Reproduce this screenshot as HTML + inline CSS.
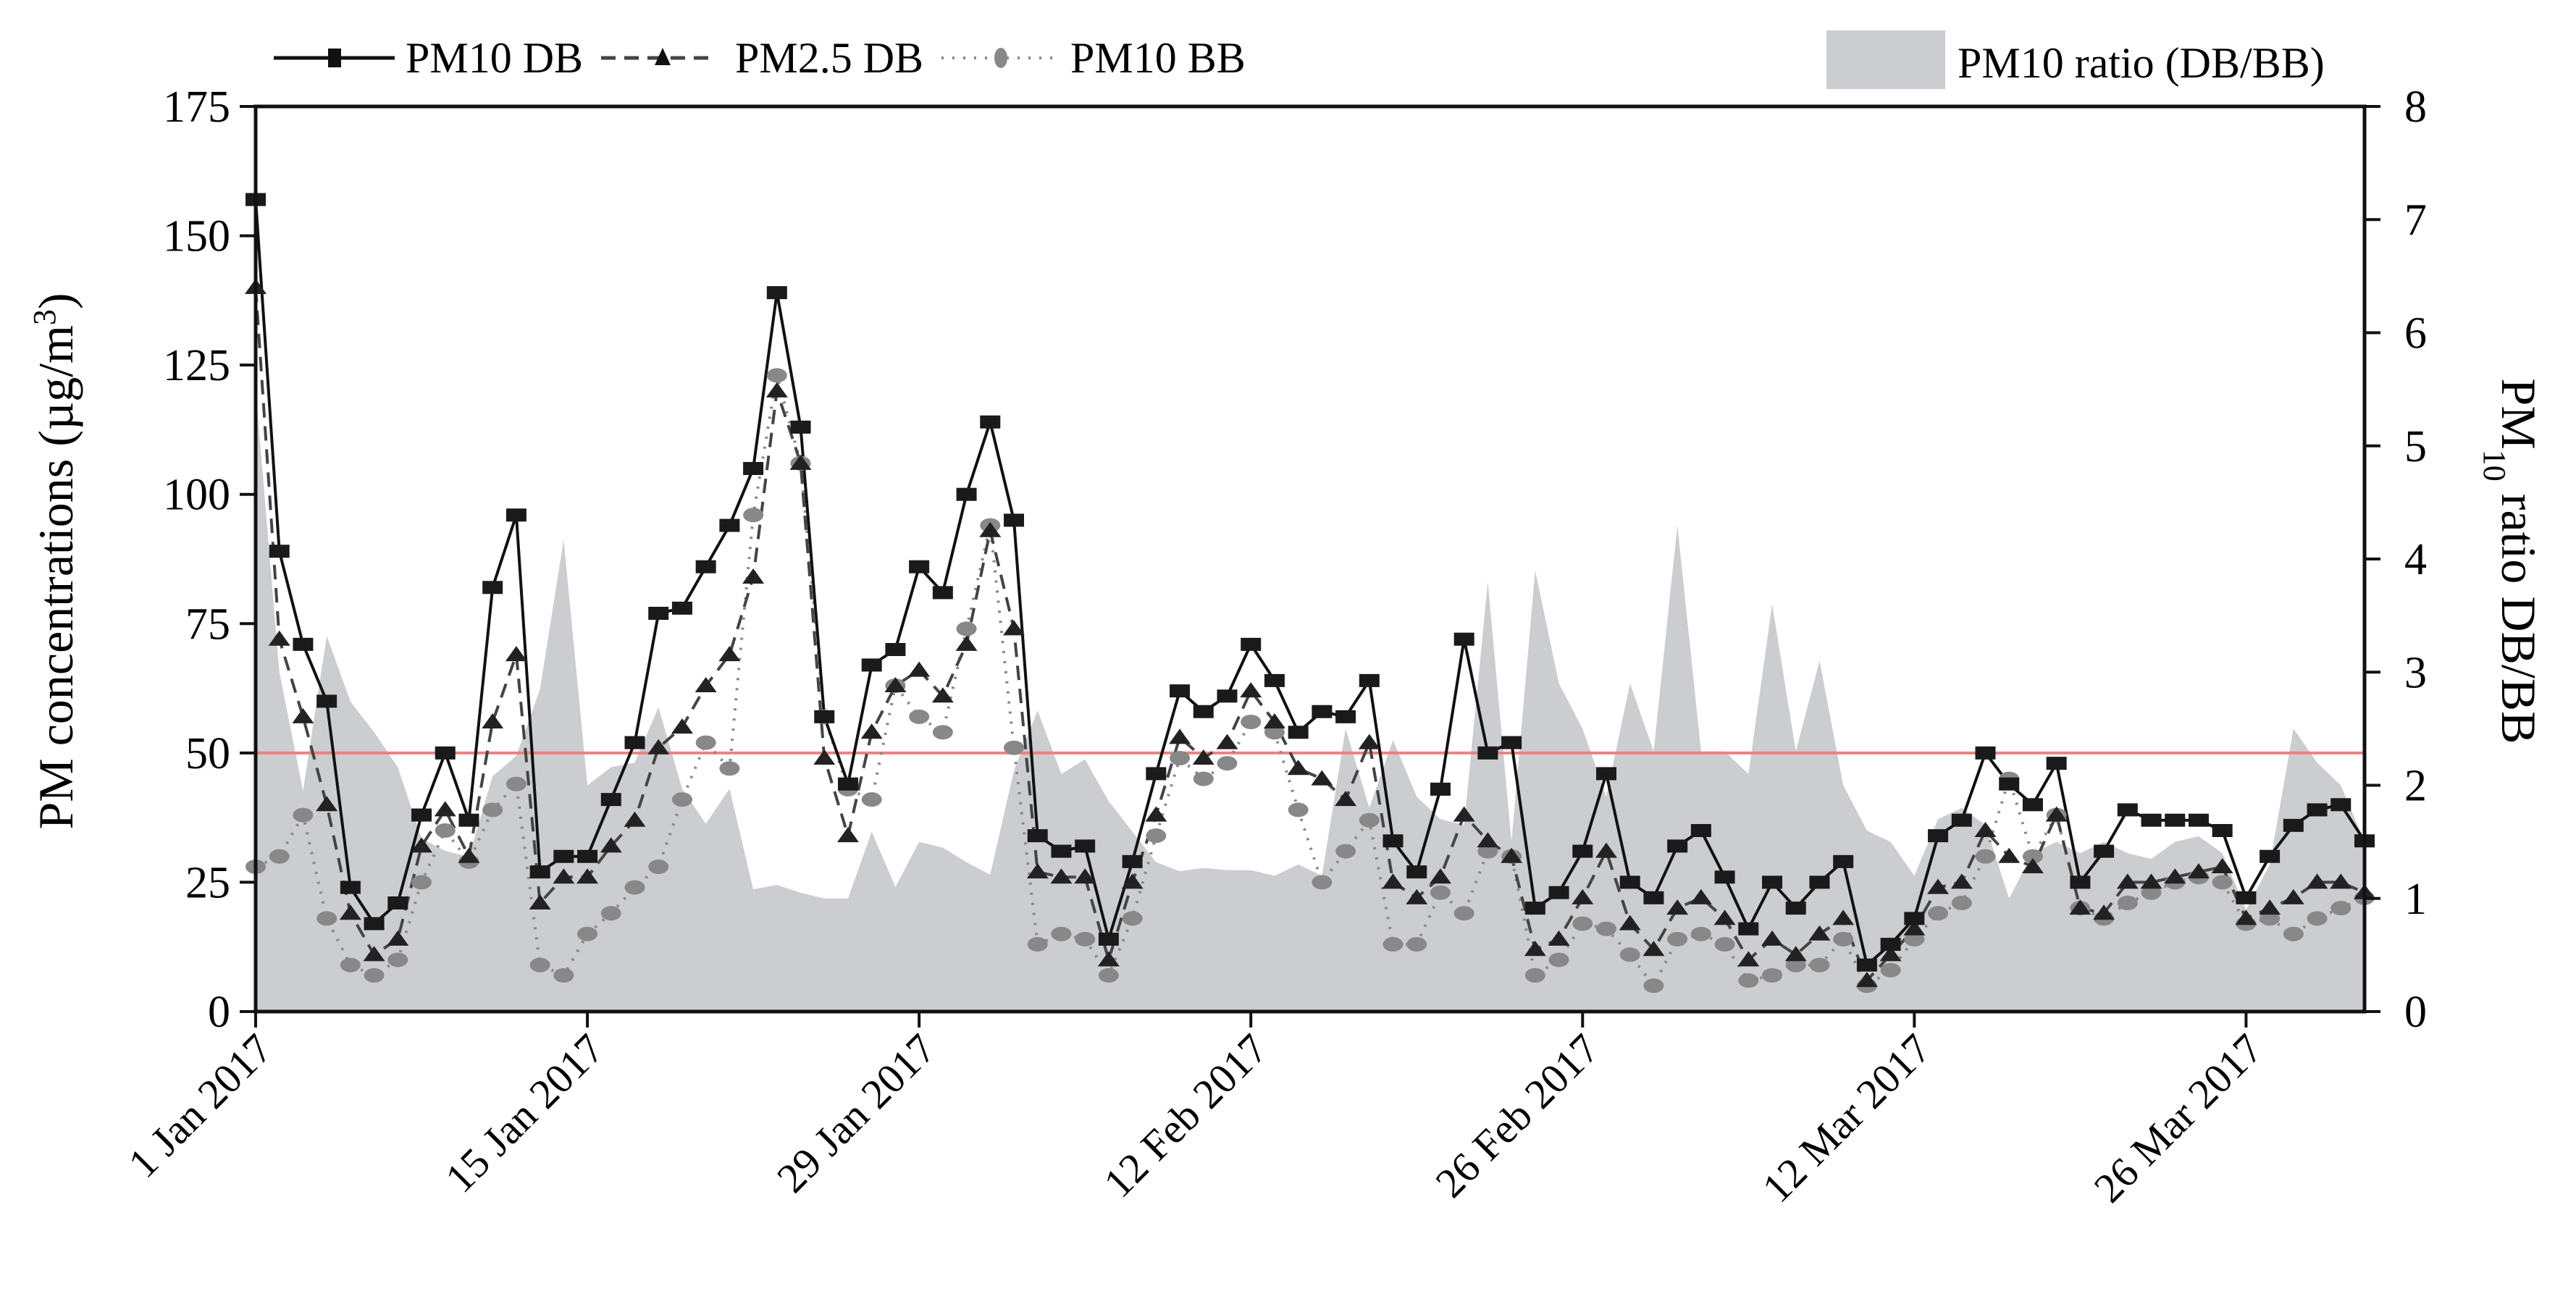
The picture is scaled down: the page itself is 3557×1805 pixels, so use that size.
<!DOCTYPE html>
<html><head><meta charset="utf-8"><style>
html,body{margin:0;padding:0;background:#fff}
svg{display:block;font-family:"Liberation Serif",serif}
</style></head><body>
<svg id="chart" width="3557" height="1805" viewBox="0 0 3557 1805" xmlns="http://www.w3.org/2000/svg">
<g id="area"></g>
<line x1="353" x2="3265" y1="0" y2="0" id="limit" stroke="#f08080" stroke-width="4"/>
<g id="series"></g>
<g id="axes"></g>
<g font-size="60">
 <g>
  <line x1="378" x2="545" y1="80" y2="80" stroke="#111" stroke-width="5"/>
  <rect x="453" y="67" width="18" height="26" fill="#111"/>
  <text x="560" y="100">PM10 DB</text></g>
 <g>
  <line x1="830" x2="985" y1="80" y2="80" stroke="#444" stroke-width="5" stroke-dasharray="20,12"/>
  <polygon points="915,66 904,90 926,90" fill="#111"/>
  <text x="1015" y="100">PM2.5 DB</text></g>
 <g>
  <line x1="1300" x2="1465" y1="80" y2="80" stroke="#888" stroke-width="4" stroke-dasharray="3,12"/>
  <ellipse cx="1382" cy="80" rx="9" ry="14" fill="#888"/>
  <text x="1478" y="100">PM10 BB</text></g>
 <g>
  <rect x="2522" y="42" width="164" height="81" fill="#cbcdd0"/>
  <text x="2703" y="107">PM10 ratio (DB/BB)</text></g>
</g>
<text font-size="68" text-anchor="middle" transform="translate(100,775) rotate(-90)">PM concentrations (µg/m<tspan baseline-shift="super" font-size="44">3</tspan>)</text>
<text font-size="68" text-anchor="middle" transform="translate(3455,775) rotate(90)">PM<tspan baseline-shift="sub" font-size="44">10</tspan> ratio DB/BB</text>
<script>
const days = Array.from({length:90},(_,i)=>i);
const pm10DB = [157,89,71,60,24,17,21,38,50,37,82,96,27,30,30,41,52,77,78,86,94,105,139,113,57,44,67,70,86,81,100,114,95,34,31,32,14,29,46,62,58,61,71,64,54,58,57,64,33,27,43,72,50,52,20,23,31,46,25,22,32,35,26,16,25,20,25,29,9,13,18,34,37,50,44,40,48,25,31,39,37,37,37,35,22,30,36,39,40,33];
const pm25DB = [140,72,57,40,19,11,14,32,39,30,56,69,21,26,26,32,37,51,55,63,69,84,120,106,49,34,54,63,66,61,71,93,74,27,26,26,10,25,38,53,49,52,62,56,47,45,41,52,25,22,26,38,33,30,12,14,22,31,17,12,20,22,18,10,14,11,15,18,6,11,16,24,25,35,30,28,38,20,19,25,25,26,27,28,18,20,22,25,25,23];
const pm10BB = [28,30,38,18,9,7,10,25,35,29,39,44,9,7,15,19,24,28,41,52,47,96,123,106,57,43,41,63,57,54,74,94,51,13,15,14,7,18,34,49,45,48,56,54,39,25,31,37,13,13,23,19,31,30,7,10,17,16,11,5,14,15,13,6,7,9,9,14,5,8,14,19,21,30,45,30,38,20,18,21,23,25,26,25,17,18,15,18,20,22];
const ratio = [5.5,3.0,1.95,3.32,2.74,2.47,2.16,1.53,1.42,1.37,2.08,2.26,2.85,4.17,2.0,2.16,2.2,2.69,1.97,1.66,1.97,1.08,1.12,1.05,1.0,1.0,1.59,1.1,1.5,1.45,1.32,1.21,2.13,2.66,2.1,2.23,1.86,1.59,1.32,1.24,1.27,1.25,1.25,1.2,1.3,1.2,2.5,1.8,2.4,1.9,1.7,1.65,3.8,1.5,3.9,2.9,2.5,1.9,2.9,2.3,4.3,2.3,2.3,2.1,3.6,2.3,3.1,2.0,1.6,1.5,1.2,1.7,1.8,1.65,1.0,1.4,1.5,1.4,1.5,1.4,1.35,1.5,1.55,1.4,0.9,1.3,2.5,2.2,2.0,1.5];
const leftTicks = [0,25,50,75,100,125,150,175];
const rightTicks = [0,1,2,3,4,5,6,7,8];
const dateTickDays = [0,14,28,42,56,70,84];
const dateTickLabels = ["1 Jan 2017","15 Jan 2017","29 Jan 2017","12 Feb 2017","26 Feb 2017","12 Mar 2017","26 Mar 2017"];
const limitValue = 50;

const L=353,R=3265,T=147,B=1397;
const x = d => L + d*(R-L)/89;
const yL = v => B - v*(B-T)/175;
const yR = v => B - v*(B-T)/8;
const NS="http://www.w3.org/2000/svg";
function mk(tag, parent, attrs){const e=document.createElementNS(NS,tag);for(const k in attrs)e.setAttribute(k,attrs[k]);parent.appendChild(e);return e;}

const areaG=document.getElementById('area');
let dA=`M${x(0)},${B} `+days.map(d=>`L${x(d)},${yR(ratio[d])}`).join(' ')+` L${x(89)},${B} Z`;
const ar=mk('path',areaG,{d:dA,fill:'#cbcdd0'});



const lim=document.getElementById('limit');
lim.setAttribute('y1',yL(limitValue));lim.setAttribute('y2',yL(limitValue));

const sg=document.getElementById('series');
function line(vals,stroke,w,dash,name){
  const p=mk('polyline',sg,{points:days.map(d=>`${x(d)},${yL(vals[d])}`).join(' '),fill:'none',stroke:stroke,'stroke-width':w,'stroke-dasharray':dash});
  
  
}
line(pm10BB,'#888',4,'3,11','pm10-bb-line');
line(pm25DB,'#444',4,'20,12','pm25-db-line');
line(pm10DB,'#111',4,'none','pm10-db-line');
days.forEach(d=>{
  const c=mk('ellipse',sg,{cx:x(d),cy:yL(pm10BB[d]),rx:14,ry:10,fill:'#888'});
  
  
});
days.forEach(d=>{
  const X=x(d),Y=yL(pm25DB[d]);
  const t=mk('polygon',sg,{points:`${X},${Y-12} ${X-15},${Y+9} ${X+15},${Y+9}`,fill:'#222'});
  
  
});
days.forEach(d=>{
  const s=mk('rect',sg,{x:x(d)-14,y:yL(pm10DB[d])-9,width:28,height:18,fill:'#1a1a1a'});
  
  
});

const ax=document.getElementById('axes');
const fr=mk('rect',ax,{x:L,y:T,width:R-L,height:B-T,fill:'none',stroke:'#111','stroke-width':5});


leftTicks.forEach(v=>{
  mk('line',ax,{x1:L-22,x2:L,y1:yL(v),y2:yL(v),stroke:'#111','stroke-width':4});
  const t=mk('text',ax,{x:L-35,y:yL(v)+21,'text-anchor':'end','font-size':62});
  t.textContent=v;
  
  
});
rightTicks.forEach(v=>{
  mk('line',ax,{x1:R,x2:R+22,y1:yR(v),y2:yR(v),stroke:'#111','stroke-width':4});
  const t=mk('text',ax,{x:R+55,y:yR(v)+21,'font-size':62});
  t.textContent=v;
  
  
});
dateTickDays.forEach((d,i)=>{
  mk('line',ax,{x1:x(d),x2:x(d),y1:B,y2:B+22,stroke:'#111','stroke-width':4});
  const t=mk('text',ax,{'text-anchor':'end','font-size':58,transform:`translate(${x(d)+26},${B+55}) rotate(-45)`});
  t.textContent=dateTickLabels[i];
  
  
});
</script>
</svg>
</body></html>
